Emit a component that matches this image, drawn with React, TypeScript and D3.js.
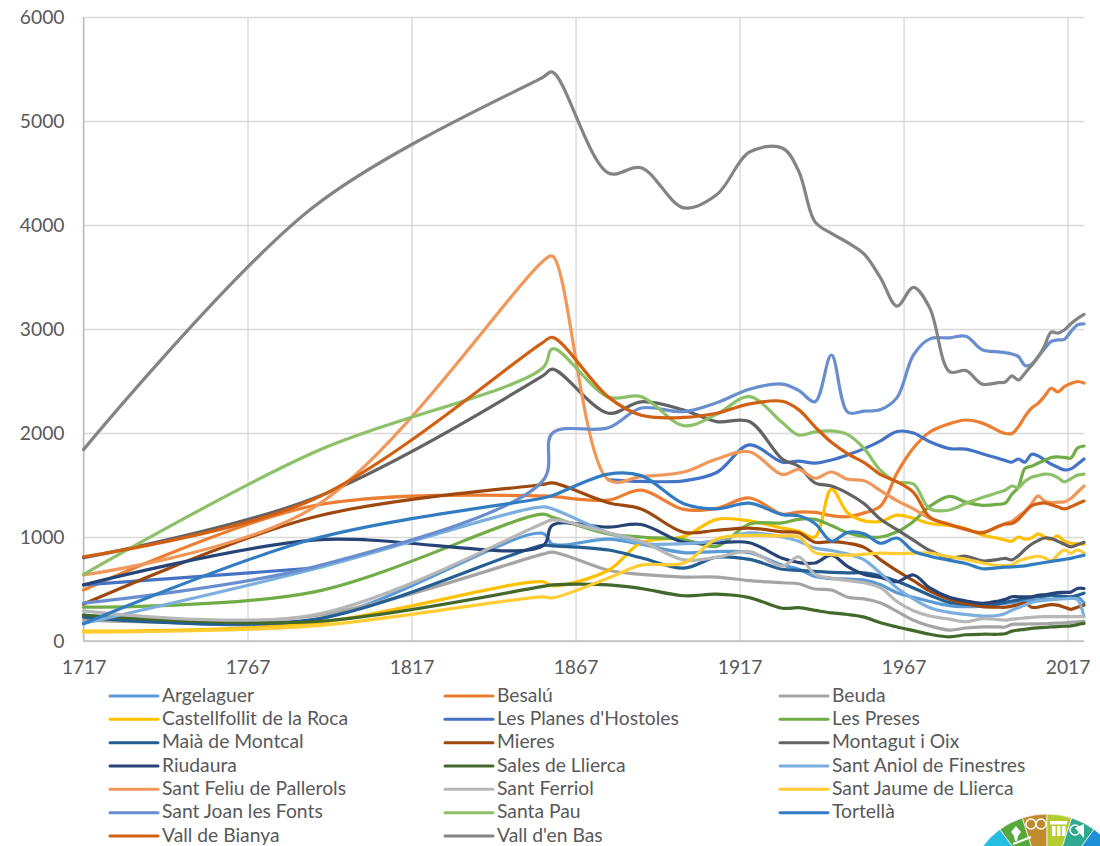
import React, { useEffect, useRef } from "react";
import { select, scaleLinear, axisBottom, axisLeft, line, curveCatmullRom, arc, range } from "d3";

const yTicks = [0, 1000, 2000, 3000, 4000, 5000, 6000];
const xTicks = [1717, 1767, 1817, 1867, 1917, 1967, 2017];

// census years, every series below has one value per year (null = no data)
const years = [1717,1787,1857,1860,1877,1887,1900,1910,1920,1930,1935,1940,1945,1950,1955,1960,1965,1970,1975,1981,1986,1991,1996,1998,2000,2002,2004,2006,2008,2010,2012,2014,2016,2018,2020,2022];

const argelaguer = [250,200,1035,930,980,930,850,860,850,730,690,620,600,595,585,540,465,420,380,340,330,335,355,362,370,378,385,392,396,400,404,408,416,425,425,365];
const besalu = [490,1300,1395,1390,1355,1450,1265,1275,1375,1220,1240,1236,1205,1195,1232,1298,1615,1855,2010,2090,2125,2095,2020,1995,1995,2060,2160,2240,2285,2355,2430,2395,2445,2475,2495,2480];
const beuda = [200,240,835,855,680,640,615,615,580,560,550,500,490,420,405,365,285,200,145,105,125,135,135,135,160,162,163,164,165,165,170,172,175,180,185,190];
const castellfollit = [95,170,570,530,680,945,1005,1170,1155,1085,1055,1000,1460,1230,1155,1150,1210,1180,1130,1110,1080,1020,985,970,960,1000,980,990,1030,1000,975,1010,960,940,935,930];
const lesPlanes = [540,700,null,null,1550,1535,1540,1620,1885,1720,1730,1710,1740,1790,1850,1925,2015,2000,1915,1850,1845,1800,1755,1735,1720,1750,1720,1795,1780,1740,1700,1670,1645,1655,1700,1750];
const lesPreses = [325,470,1220,1190,1030,1000,975,910,1125,1135,1170,1170,1110,1040,1003,1000,1050,1150,1295,1390,1335,1305,1315,1325,1410,1480,1660,1680,1710,1735,1765,1770,1765,1760,1855,1875];
const maia = [230,205,920,915,875,800,700,805,785,690,680,670,660,655,655,625,575,510,440,370,355,345,360,372,385,395,410,420,428,432,440,435,430,425,440,460];
const mieres = [355,1190,1505,1520,1330,1270,1045,1065,1085,1050,1040,950,955,940,900,780,675,580,480,400,360,330,325,325,335,350,365,325,325,340,350,345,325,305,325,345];
const montagut = [800,1370,2550,2615,2190,2300,2220,2110,2110,1750,1680,1520,1490,1420,1320,1170,1070,970,870,800,815,770,785,795,780,820,880,930,965,990,985,960,930,905,925,950];
const riudaura = [540,970,915,1115,1095,1120,948,945,945,795,755,750,825,715,640,610,570,635,510,420,385,362,385,400,425,425,425,425,440,445,455,465,468,470,505,505];
const sales = [250,185,525,540,540,505,435,450,417,315,320,295,270,255,230,175,135,100,65,40,60,65,65,70,95,105,112,122,127,130,135,138,142,145,158,170];
const santAniol = [170,690,1290,1270,1040,940,935,965,1040,1000,960,895,870,835,780,650,510,405,320,275,255,240,248,265,295,320,345,370,385,390,398,402,406,410,400,235];
const santFeliu = [635,1280,3650,3700,1550,1580,1625,1750,1820,1600,1650,1565,1625,1555,1540,1445,1350,1270,1180,1120,1070,1045,1100,1130,1150,1200,1245,1320,1395,1345,1332,1335,1338,1370,1430,1490];
const santFerriol = [290,250,1130,1165,1040,960,780,805,860,720,810,640,605,580,560,510,380,290,240,210,185,215,205,200,210,215,222,228,232,234,235,235,235,235,235,235];
const santJaume = [85,145,425,415,605,730,750,980,1015,1010,1000,850,830,825,835,845,840,845,845,810,785,750,725,725,730,770,790,805,815,800,770,830,875,845,875,845];
const santJoan = [365,710,1540,2000,2050,2240,2205,2290,2420,2470,2410,2300,2750,2200,2210,2225,2340,2750,2905,2915,2930,2800,2780,2772,2760,2735,2650,2660,2735,2810,2880,2895,2900,2975,3040,3050];
const santaPau = [640,1810,2625,2810,2345,2350,2070,2180,2350,2100,1980,2010,2020,1985,1850,1640,1530,1510,1270,1260,1325,1380,1430,1450,1490,1475,1535,1575,1590,1605,1600,1570,1530,1560,1595,1605];
const tortella = [165,980,1375,1400,1605,1590,1320,1270,1325,1215,1205,1130,960,1045,1030,940,990,865,815,775,745,695,705,710,712,718,722,735,745,755,765,775,785,795,810,825];
const vallBianya = [810,1360,2870,2920,2345,2170,2150,2190,2280,2305,2225,2060,1910,1800,1715,1600,1530,1430,1190,1120,1075,1040,1105,1125,1130,1170,1240,1300,1320,1328,1310,1290,1270,1290,1320,1345];
const vallBas = [1840,4170,5420,5470,4500,4550,4165,4290,4700,4740,4520,4030,3920,3830,3720,3490,3220,3400,3200,2590,2600,2470,2485,2490,2550,2510,2575,2650,2730,2840,2970,2960,2990,3050,3100,3140];

// legend order, also draw order (last is on top)
const seriesNames = ["Argelaguer","Besalú","Beuda","Castellfollit de la Roca","Les Planes d'Hostoles","Les Preses","Maià de Montcal","Mieres","Montagut i Oix","Riudaura","Sales de Llierca","Sant Aniol de Finestres","Sant Feliu de Pallerols","Sant Ferriol","Sant Jaume de Llierca","Sant Joan les Fonts","Santa Pau","Tortellà","Vall de Bianya","Vall d'en Bas"];
const seriesValues = [argelaguer,besalu,beuda,castellfollit,lesPlanes,lesPreses,maia,mieres,montagut,riudaura,sales,santAniol,santFeliu,santFerriol,santJaume,santJoan,santaPau,tortella,vallBianya,vallBas];
const seriesColors = ["#5B9BD5","#ED7D31","#A5A5A5","#FFC000","#4472C4","#70AD47","#255E91","#9E480E","#636363","#264478","#43682B","#7CAFDD","#F1975A","#B7B7B7","#FFCD33","#698ED0","#8CC168","#327DC2","#D26012","#848484"];

const wheelColors = ["#26BDE2","#56A83A","#BF8B2E","#B5CC2E","#2FA98F","#1B8FD8"];

const FONT = "Lato, 'Open Sans', sans-serif";
const FONT_SIZE = "19.3px";
const TEXT = "#595959";

const App = () => {
  const svgRef = useRef<SVGSVGElement>(null);

  useEffect(() => {
    const svg = select(svgRef.current);
    svg.selectAll("*").remove();

    const xScale = scaleLinear().domain([1717, 2022]).range([83.5, 1084]);
    const yScale = scaleLinear().domain([0, 6000]).range([641, 17]);

    const yAxis = axisLeft(yScale).tickValues(yTicks).tickFormat((d) => String(d)).tickSize(-1000.5).tickPadding(19);
    const gy = svg.append("g").attr("transform", "translate(83.5,0)").call(yAxis);
    const xAxis = axisBottom(xScale).tickValues(xTicks).tickFormat((d) => String(d)).tickSize(-624).tickPadding(19);
    const gx = svg.append("g").attr("transform", "translate(0,641)").call(xAxis);

    [gx, gy].forEach((g) => {
      g.select(".domain").remove();
      g.selectAll(".tick line").attr("stroke", "#D9D9D9").attr("stroke-width", 1.4);
      g.selectAll("text").attr("fill", TEXT).style("font-family", FONT).style("font-size", FONT_SIZE);
    });

    // axis lines are a bit darker than the grid
    svg.append("line").attr("x1", 83.5).attr("x2", 1084).attr("y1", 641).attr("y2", 641).attr("stroke", "#BFBFBF").attr("stroke-width", 1.5);
    svg.append("line").attr("x1", 83.5).attr("x2", 83.5).attr("y1", 17).attr("y2", 641).attr("stroke", "#BFBFBF").attr("stroke-width", 1.5);

    // centripetal catmull-rom: smooth like the spreadsheet, no loops at 1857/1860
    const lineGen = line<number | null>()
      .defined((d) => d !== null)
      .x((_, i) => xScale(years[i]))
      .y((d) => yScale(d as number))
      .curve(curveCatmullRom.alpha(0.5));

    svg.append("g").selectAll("path").data(seriesValues).join("path")
      .attr("d", (d) => lineGen(d))
      .attr("fill", "none")
      .attr("stroke", (_, i) => seriesColors[i])
      .attr("stroke-width", 3.2)
      .attr("stroke-linecap", "round")
      .attr("stroke-linejoin", "round");

    // legend, three columns
    const colX = [110, 445, 780];
    const rowY = scaleLinear().domain([0, 6]).range([696, 836]);
    const legend = svg.append("g").selectAll("g").data(seriesNames).join("g")
      .attr("transform", (_, i) => `translate(${colX[i % 3]},${rowY(Math.floor(i / 3))})`);
    legend.append("line").attr("x2", 48).attr("stroke", (_, i) => seriesColors[i]).attr("stroke-width", 3).attr("stroke-linecap", "round");
    legend.append("text").text((d) => d).attr("x", 52).attr("dy", "0.3em")
      .attr("fill", TEXT).style("font-family", FONT).style("font-size", FONT_SIZE);

    // SDG wheel peeking in at the bottom right corner
    const wheel = svg.append("g").attr("transform", "translate(1047,894)");
    const wedge = arc<number>().innerRadius(40).outerRadius(80)
      .startAngle((i) => ((i - 3) * 18 * Math.PI) / 180)
      .endAngle((i) => ((i - 2) * 18 * Math.PI) / 180);
    wheel.selectAll("path").data(range(wheelColors.length)).join("path")
      .attr("d", (i) => wedge(i))
      .attr("fill", (i) => wheelColors[i])
      .attr("stroke", "#F2F2F2")
      .attr("stroke-width", 0.8);
    // icons, roughly
    wheel.append("g").attr("fill", "none").attr("stroke", "#fff").attr("stroke-width", 1.5)
      .selectAll("circle").data([-16, -6]).join("circle")
      .attr("cx", (d) => d).attr("cy", -70).attr("r", 5);
    wheel.append("rect").attr("x", 3).attr("y", -73).attr("width", 17).attr("height", 3.5).attr("fill", "#fff");
    wheel.append("g").attr("fill", "#fff").selectAll("rect").data(range(3)).join("rect")
      .attr("x", (i) => 5 + i * 5).attr("y", -68).attr("width", 3.5).attr("height", 10);
    wheel.append("path").attr("d", "M28,-66 L37,-70 L37,-56 Z").attr("fill", "#fff");
    wheel.append("circle").attr("cx", 28).attr("cy", -64).attr("r", 5).attr("fill", "none").attr("stroke", "#fff").attr("stroke-width", 1.5);
    wheel.append("path").attr("d", "M-36,-62 L-31,-68 L-26,-62 L-29,-58 L-30,-53 L-32,-53 L-33,-58 Z").attr("fill", "#fff");
    wheel.append("path").attr("d", "M-34,-50 L-16,-57").attr("stroke", "#fff").attr("stroke-width", 2);
  }, []);

  return (
    <svg ref={svgRef} width={1100} height={846} style={{ position: "absolute", left: 0, top: 0, display: "block", background: "#fff" }} />
  );
};

export default App;
